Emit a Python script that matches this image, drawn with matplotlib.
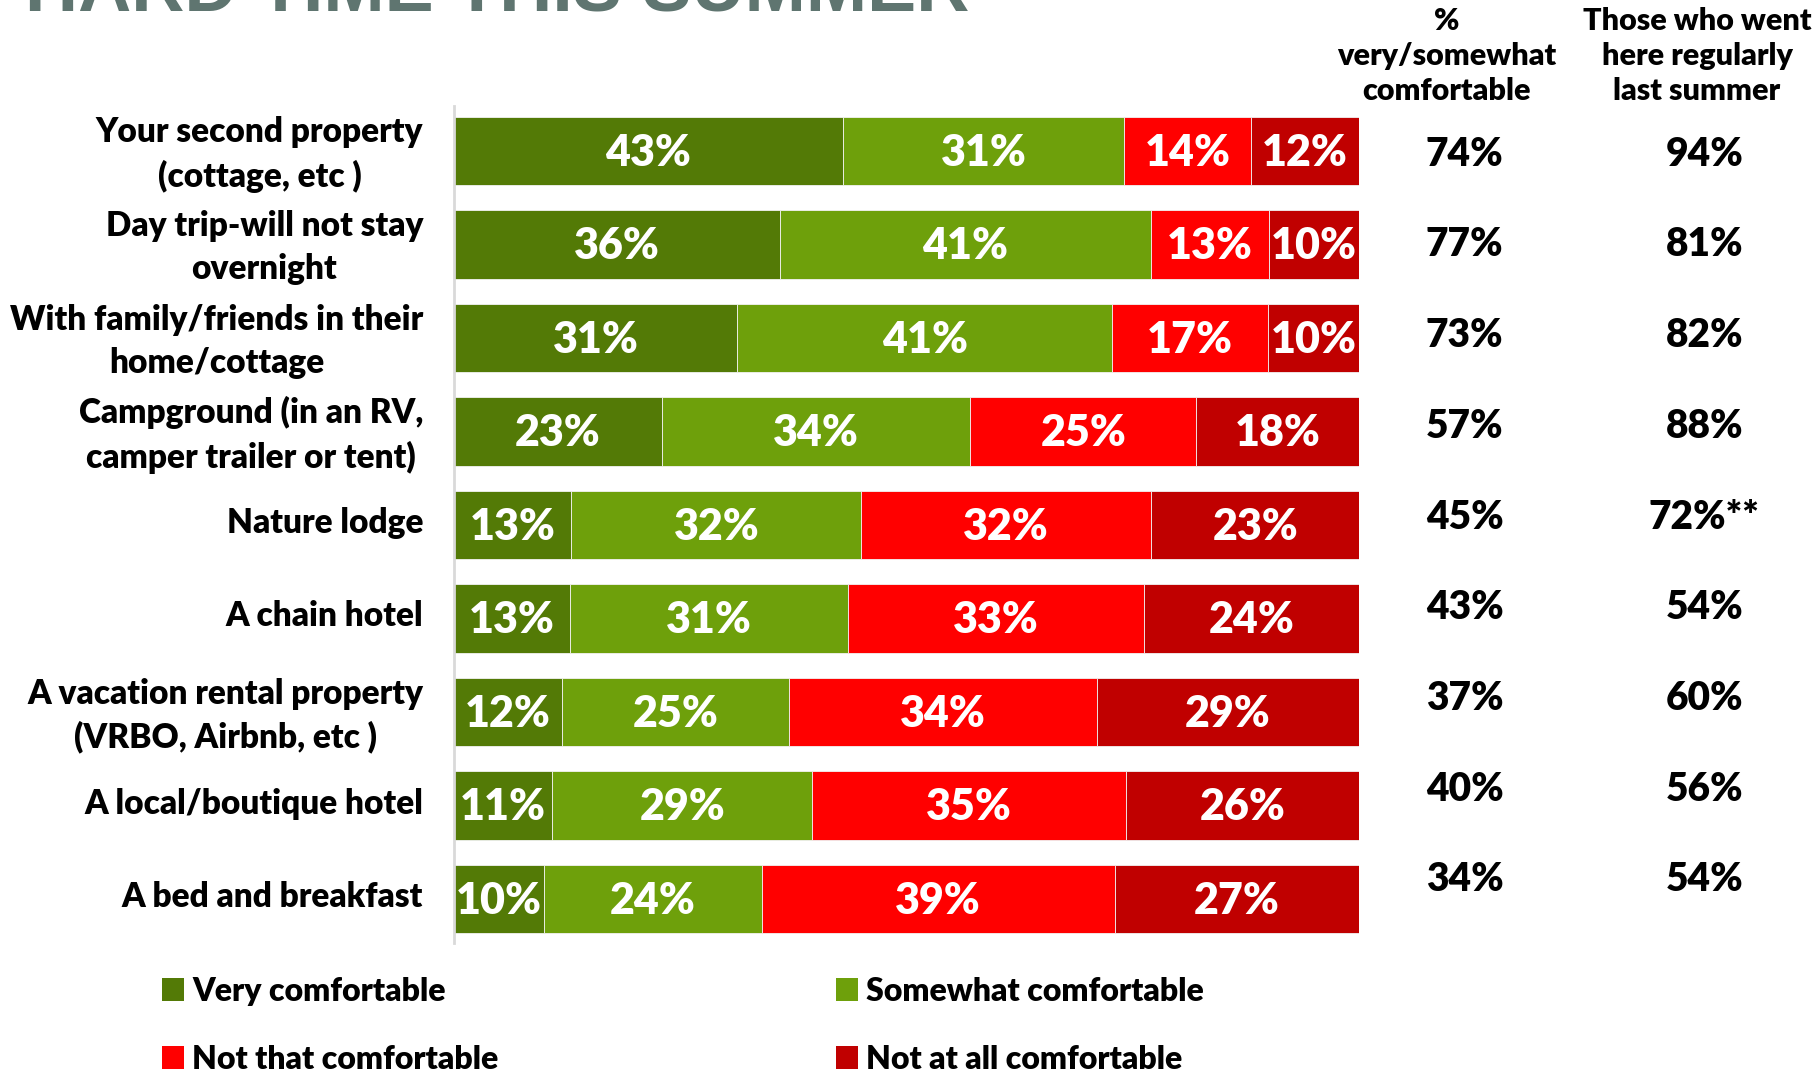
import matplotlib
matplotlib.use("Agg")
import matplotlib.pyplot as plt
import numpy as np
from matplotlib.patches import Patch
from matplotlib.transforms import blended_transform_factory, ScaledTranslation

categories = [
    "Your second property\n(cottage, etc )",
    "Day trip-will not stay\novernight",
    "With family/friends in their\nhome/cottage",
    "Campground (in an RV,\ncamper trailer or tent)",
    "Nature lodge",
    "A chain hotel",
    "A vacation rental property\n(VRBO, Airbnb, etc )",
    "A local/boutique hotel",
    "A bed and breakfast",
]
very = [43, 36, 31, 23, 13, 13, 12, 11, 10]
somewhat = [31, 41, 41, 34, 32, 31, 25, 29, 24]
not_that = [14, 13, 17, 25, 32, 33, 34, 35, 39]
not_at_all = [12, 10, 10, 18, 23, 24, 29, 26, 27]
pct_comfortable = ["74%", "77%", "73%", "57%", "45%", "43%", "37%", "40%", "34%"]
went_regularly = ["94%", "81%", "82%", "88%", "72%**", "54%", "60%", "56%", "54%"]
series_names = ["Very comfortable", "Somewhat comfortable", "Not that comfortable", "Not at all comfortable"]
colors = ["#537A06", "#6EA00B", "#FF0000", "#C00000"]
title = "HARD TIME THIS SUMMER"
header1 = "%\nvery/somewhat\ncomfortable"
header2 = "Those who went\nhere regularly\nlast summer"

FONT = "Lato"
W = "heavy"
fig = plt.figure(figsize=(18.15, 10.77), dpi=100)
ax = fig.add_axes([0.250, 0.1244, 0.499, 0.7772])

data = np.array([very, somewhat, not_that, not_at_all], dtype=float)
totals = data.sum(axis=0)
norm = data / totals * 100
y = np.arange(len(categories))
left = np.zeros(len(categories))
for k in range(4):
    bars = ax.barh(y, norm[k], left=left, height=0.73, color=colors[k],
                   edgecolor="#f2f2f2", linewidth=0.6)
    for i, b in enumerate(bars):
        ax.text(left[i] + norm[k][i] / 2, y[i] + 0.02, f"{int(data[k][i])}%",
                ha="center", va="center", color="white", fontsize=31,
                fontweight=W, family=FONT)
    left += norm[k]

ax.set_xlim(0, 100)
ax.set_ylim(8.47, -0.48)
ax.set_yticks(y)
ax.set_yticklabels(categories, fontsize=24, fontweight=W, family=FONT,
                   linespacing=1.42, multialignment="center")
ax.tick_params(axis="y", length=0, pad=22)
shift = ScaledTranslation(0, 0.05, fig.dpi_scale_trans)
for lab in ax.get_yticklabels():
    lab.set_transform(lab.get_transform() + shift)
ax.set_xticks([])
for s in ["top", "right", "bottom"]:
    ax.spines[s].set_visible(False)
ax.spines["left"].set_color("#d9d9d9")
ax.spines["left"].set_linewidth(2)

# right-hand columns
trans = blended_transform_factory(fig.transFigure, ax.transData)
for i in range(len(categories)):
    yy = i * 0.97 + 0.035
    ax.text(0.807, yy, pct_comfortable[i], transform=trans, ha="center", va="center",
            fontsize=28, fontweight=W, family=FONT, color="black")
    ax.text(0.939, yy, went_regularly[i], transform=trans, ha="center", va="center",
            fontsize=28, fontweight=W, family=FONT, color="black")

fig.text(0.797, 1 - 56 / 1077, header1, ha="center", va="center", fontsize=22,
         fontweight=W, family=FONT, linespacing=1.3)
fig.text(0.935, 1 - 56 / 1077, header2, ha="center", va="center", fontsize=22,
         fontweight=W, family=FONT, linespacing=1.3)

fig.text(25 / 1815, 1 - 11 / 1077, title, ha="left", va="baseline", fontsize=53,
         fontweight="bold", family="Liberation Sans", color="#5F7570")

handles = [Patch(facecolor=c, edgecolor="none") for c in colors]
legkw = dict(loc="lower left", frameon=False,
             prop={"family": FONT, "weight": W, "size": 23},
             handlelength=0.7, handleheight=0.7, handletextpad=0.25,
             labelspacing=1.22, borderaxespad=0, borderpad=0)
leg1 = fig.legend([handles[0], handles[2]], [series_names[0], series_names[2]],
                  bbox_to_anchor=(0.0893, 0.003), **legkw)
leg2 = fig.legend([handles[1], handles[3]], [series_names[1], series_names[3]],
                  bbox_to_anchor=(0.4605, 0.003), **legkw)

fig.savefig("out.png", dpi=100)
